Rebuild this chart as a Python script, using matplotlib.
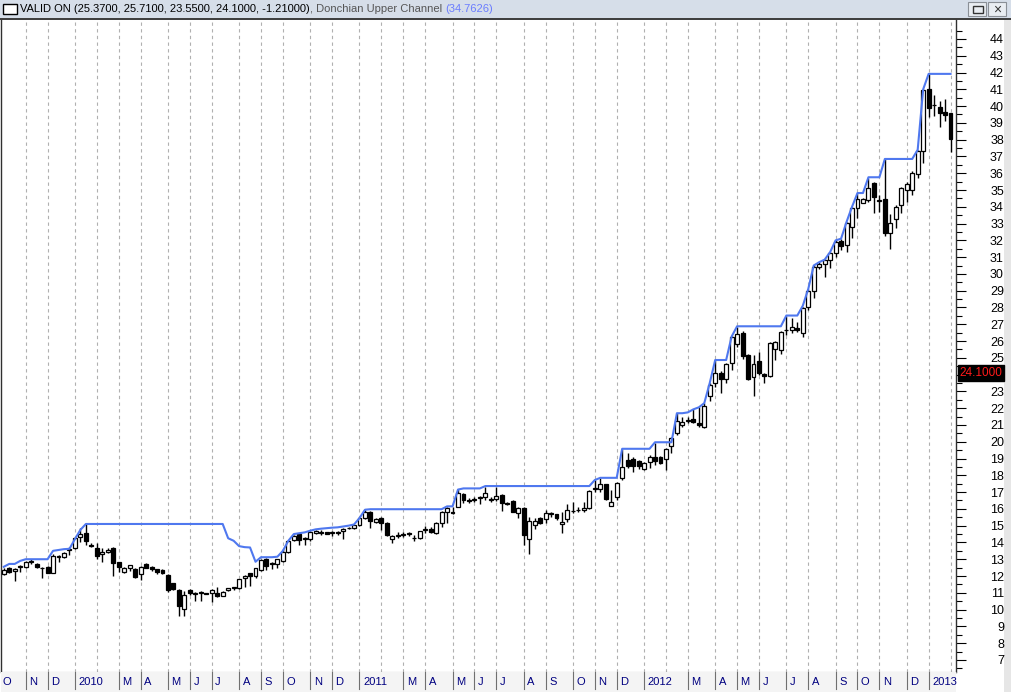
"""Weekly candlestick chart of VALID with a Donchian upper channel (trading-terminal look)."""

import matplotlib

matplotlib.use("Agg")
import matplotlib.pyplot as plt
import numpy as np
import pandas as pd
from matplotlib.patches import Rectangle
from matplotlib.transforms import blended_transform_factory

plt.rcParams["font.family"] = ["Liberation Sans", "DejaVu Sans"]

W, H = 1011, 692

# weekly OHLC (first bar = week ending 2009-10-09)
opens = [
    12.12, 12.45, 12.28, 12.55, 12.52, 12.85, 12.70, 12.50, 12.52, 12.20,
    13.13, 13.15, 13.57, 13.65, 14.30, 14.54, 13.82, 13.69, 13.31, 13.41,
    13.65, 12.82, 12.22, 12.50, 12.42, 12.12, 12.70, 12.56, 12.40, 12.36,
    12.06, 11.56, 11.17, 10.01, 11.17, 10.95, 11.00, 10.97, 10.97, 10.97,
    10.83, 11.17, 11.30, 11.26, 11.86, 12.15, 12.03, 12.36, 12.99, 12.80,
    12.71, 12.89, 13.45, 14.14, 14.48, 14.22, 14.18, 14.54, 14.58, 14.60,
    14.57, 14.62, 14.70, 14.85, 14.84, 15.03, 15.43, 15.83, 15.23, 15.43,
    15.17, 14.22, 14.40, 14.47, 14.56, 14.26, 14.24, 14.73, 14.83, 14.57,
    15.13, 15.83, 15.80, 16.12, 16.88, 16.50, 16.55, 16.66, 16.68, 16.55,
    16.56, 16.82, 16.34, 16.46, 15.77, 16.03, 14.18, 15.03, 15.43, 15.37,
    15.72, 15.67, 15.09, 15.37, 15.87, 15.91, 15.93, 16.03, 17.20, 17.16,
    17.46, 16.19, 16.73, 17.82, 18.91, 18.95, 18.85, 18.36, 18.81, 19.11,
    19.07, 18.95, 19.77, 20.50, 20.98, 21.23, 21.34, 21.10, 20.86, 22.73,
    23.52, 24.12, 23.72, 24.68, 25.81, 26.46, 25.17, 23.88, 24.82, 24.04,
    23.92, 25.51, 25.47, 26.64, 26.66, 26.76, 26.46, 28.01, 28.98, 30.43,
    30.59, 30.83, 31.27, 31.96, 31.72, 32.82, 33.91, 34.25, 34.41, 35.40,
    34.35, 34.45, 32.42, 33.25, 34.11, 35.00, 35.00, 35.94, 37.33, 41.00,
    40.05, 39.93, 39.63, 39.57,
]
highs = [
    12.45, 12.55, 12.50, 12.65, 12.92, 12.99, 12.80, 12.52, 12.60, 13.30,
    13.25, 13.43, 13.75, 14.30, 14.85, 15.10, 13.98, 13.98, 13.69, 13.69,
    13.70, 12.85, 12.55, 12.68, 12.45, 12.60, 12.75, 12.60, 12.44, 12.40,
    12.10, 11.60, 11.20, 11.10, 11.25, 11.05, 11.10, 11.00, 11.20, 11.32,
    11.08, 11.30, 11.36, 11.85, 12.05, 12.20, 12.50, 13.00, 13.05, 12.84,
    13.00, 13.60, 14.15, 14.45, 14.52, 14.35, 14.70, 14.72, 14.74, 14.64,
    14.70, 14.70, 14.88, 14.90, 15.05, 15.50, 15.93, 15.90, 15.43, 15.53,
    15.20, 14.42, 14.63, 14.63, 14.60, 14.44, 14.70, 14.97, 14.93, 15.20,
    15.90, 16.12, 16.12, 17.20, 16.96, 16.62, 16.72, 16.76, 17.32, 16.72,
    17.32, 16.86, 16.42, 16.50, 16.10, 16.10, 15.50, 15.43, 15.50, 15.93,
    15.83, 15.70, 15.83, 16.32, 16.43, 16.13, 16.43, 17.10, 17.70, 17.85,
    17.50, 17.12, 17.60, 19.57, 19.35, 19.11, 18.91, 18.80, 19.21, 19.95,
    19.15, 19.60, 20.30, 21.70, 21.50, 21.50, 21.93, 22.05, 22.30, 23.50,
    24.85, 24.24, 24.70, 26.30, 26.86, 26.62, 25.20, 25.17, 25.37, 24.10,
    25.95, 26.00, 26.60, 27.50, 27.36, 27.16, 28.00, 29.10, 30.53, 30.73,
    30.87, 31.30, 32.00, 32.06, 33.10, 34.00, 34.80, 34.50, 35.70, 35.45,
    34.70, 36.85, 33.57, 34.10, 35.20, 35.50, 36.13, 37.40, 41.00, 41.90,
    40.66, 40.33, 40.41, 39.60,
]
lows = [
    12.05, 12.20, 11.72, 12.26, 12.45, 12.72, 12.46, 11.90, 12.16, 12.15,
    12.86, 13.10, 13.25, 13.60, 14.00, 13.85, 13.70, 13.00, 12.82, 13.35,
    12.00, 12.26, 12.18, 12.30, 11.90, 11.76, 12.45, 12.32, 12.12, 12.10,
    11.07, 11.18, 9.62, 9.62, 10.87, 10.53, 10.53, 10.90, 10.47, 10.77,
    10.80, 11.10, 11.17, 11.24, 11.36, 11.40, 11.86, 12.30, 12.35, 12.43,
    12.45, 12.85, 13.40, 14.10, 13.84, 13.84, 14.10, 14.50, 14.44, 14.48,
    14.38, 14.45, 14.18, 14.80, 14.80, 15.00, 15.40, 14.84, 15.13, 14.77,
    14.38, 13.94, 14.24, 14.30, 14.38, 14.08, 14.20, 14.57, 14.54, 14.52,
    14.93, 15.13, 15.67, 16.10, 16.36, 16.36, 16.42, 16.32, 16.52, 16.42,
    16.48, 15.89, 16.22, 15.80, 15.43, 13.84, 13.34, 14.83, 15.10, 15.13,
    15.49, 15.33, 14.54, 15.23, 15.73, 15.83, 15.83, 16.00, 17.03, 17.03,
    16.50, 16.15, 16.53, 17.72, 18.42, 18.22, 18.36, 18.32, 18.42, 18.60,
    18.70, 18.32, 19.35, 20.40, 20.90, 21.10, 21.10, 20.90, 20.80, 22.45,
    23.25, 22.93, 23.48, 24.28, 25.63, 24.93, 23.68, 22.75, 23.98, 23.48,
    23.88, 24.87, 25.23, 26.37, 26.50, 26.56, 26.27, 27.85, 28.55, 30.28,
    29.84, 30.33, 31.03, 31.43, 31.33, 32.12, 33.31, 34.20, 34.30, 33.61,
    33.71, 32.26, 31.47, 32.72, 33.61, 34.31, 34.70, 35.70, 36.63, 39.33,
    39.41, 38.78, 39.13, 37.27,
]
closes = [
    12.36, 12.25, 12.40, 12.58, 12.82, 12.88, 12.52, 12.46, 12.20, 13.19,
    13.17, 13.35, 13.60, 14.25, 14.50, 14.10, 13.78, 13.21, 13.41, 13.53,
    12.80, 12.52, 12.50, 12.64, 11.92, 12.52, 12.48, 12.42, 12.24, 12.16,
    11.17, 11.23, 10.21, 10.87, 10.97, 10.99, 11.03, 10.91, 11.16, 10.83,
    11.03, 11.27, 11.32, 11.80, 12.02, 12.03, 12.45, 12.95, 12.60, 12.70,
    12.99, 13.45, 14.08, 14.38, 14.14, 14.25, 14.64, 14.68, 14.62, 14.52,
    14.60, 14.54, 14.82, 14.87, 15.03, 15.43, 15.83, 15.29, 15.37, 15.13,
    14.42, 14.38, 14.44, 14.50, 14.50, 14.29, 14.67, 14.83, 14.63, 15.13,
    15.83, 16.03, 15.75, 16.96, 16.52, 16.46, 16.60, 16.70, 16.92, 16.58,
    16.76, 16.36, 16.30, 15.83, 16.03, 14.44, 15.29, 15.29, 15.17, 15.77,
    15.74, 15.43, 15.23, 15.95, 15.90, 15.95, 16.07, 17.06, 17.24, 17.46,
    16.59, 16.43, 17.52, 18.48, 18.58, 18.58, 18.58, 18.71, 19.11, 18.87,
    18.75, 19.55, 20.24, 21.26, 21.16, 21.28, 21.20, 20.98, 22.13, 23.38,
    24.08, 23.74, 24.64, 26.23, 26.40, 25.13, 23.72, 24.62, 24.08, 23.94,
    25.87, 25.97, 26.56, 26.68, 26.82, 26.66, 27.95, 29.00, 30.43, 30.59,
    30.83, 31.27, 31.92, 31.66, 33.02, 33.91, 34.45, 34.45, 35.10, 34.60,
    34.39, 32.46, 33.02, 33.97, 35.10, 35.36, 36.00, 37.33, 40.96, 39.87,
    40.09, 39.57, 39.47, 38.06,
]
# Donchian upper channel as drawn on the chart
donchian = [
    12.55, 12.72, 12.72, 12.90, 13.00, 13.00, 13.00, 13.00, 13.00, 13.50,
    13.55, 13.60, 13.62, 14.20, 14.75, 15.10, 15.10, 15.10, 15.10, 15.10,
    15.10, 15.10, 15.10, 15.10, 15.10, 15.10, 15.10, 15.10, 15.10, 15.10,
    15.10, 15.10, 15.10, 15.10, 15.10, 15.10, 15.10, 15.10, 15.10, 15.10,
    15.10, 14.25, 14.10, 13.78, 13.72, 13.70, 12.85, 13.12, 13.12, 13.12,
    13.15, 13.50, 14.10, 14.50, 14.55, 14.60, 14.70, 14.78, 14.82, 14.85,
    14.88, 14.90, 14.95, 15.00, 15.07, 15.45, 15.95, 15.98, 15.98, 15.98,
    15.98, 15.98, 15.98, 15.98, 15.98, 15.98, 15.98, 15.98, 15.98, 15.98,
    15.98, 16.15, 16.15, 17.15, 17.22, 17.22, 17.22, 17.22, 17.36, 17.36,
    17.36, 17.36, 17.36, 17.36, 17.36, 17.36, 17.36, 17.36, 17.36, 17.36,
    17.36, 17.36, 17.36, 17.36, 17.36, 17.36, 17.36, 17.36, 17.72, 17.85,
    17.85, 17.85, 17.85, 19.58, 19.58, 19.58, 19.58, 19.58, 19.58, 19.97,
    19.97, 19.97, 19.97, 21.70, 21.70, 21.75, 21.93, 22.05, 22.30, 23.50,
    24.87, 24.87, 24.87, 26.27, 26.88, 26.88, 26.88, 26.88, 26.88, 26.88,
    26.88, 26.88, 26.88, 27.52, 27.52, 27.52, 28.10, 29.10, 30.50, 30.70,
    30.85, 31.30, 32.00, 32.10, 33.10, 34.00, 34.82, 34.82, 35.76, 35.76,
    35.76, 36.85, 36.85, 36.85, 36.85, 36.85, 36.85, 37.40, 41.00, 41.92,
    41.92, 41.92, 41.92, 41.92,
]

ticker_text = "VALID ON (25.3700, 25.7100, 23.5500, 24.1000, -1.21000)"
indicator_text = ", Donchian Upper Channel "
indicator_value = "(34.7626)"
last_price = 24.1
last_price_label = "24.1000"
price_ticks = list(range(7, 45))
month_letters = "JFMAMJJASOND"

UP_COLOR = "white"
DOWN_COLOR = "black"
LINE_COLOR = "#4f78ef"
GRID_COLOR = "#b0b0b0"
BAR_COLOR = "#d6dee9"


def px_rect(x0, y0, x1, y1, **kw):
    """Rectangle given in figure pixels (origin top-left), drawn behind the axes."""
    kw.setdefault("zorder", -1)
    return Rectangle((x0 / W, 1 - y1 / H), (x1 - x0) / W, (y1 - y0) / H,
                     transform=fig.transFigure, **kw)


dates = pd.date_range("2009-10-09", periods=len(closes), freq="W-FRI")
# New Year's Day 2010 was a Friday, that week closed on Dec 31
dates = dates.where(~((dates.month == 1) & (dates.day == 1)), dates - pd.Timedelta(days=1))

x = np.arange(len(closes))
o = np.array(opens)
h = np.array(highs)
l = np.array(lows)
c = np.array(closes)
up = c >= o

fig = plt.figure(figsize=(W / 100, H / 100), dpi=100)
fig.patch.set_facecolor("white")

# plot area: x 0..956 px, y 20..672 px
ax = fig.add_axes([0.5 / W, 1 - 672 / H, 955.5 / W, (672 - 20) / H])
ax.set_facecolor("white")
ax.set_xlim(-0.6, 174.0)
ax.set_ylim(6.28, 45.13)

month_starts = [i for i in range(1, len(dates)) if dates[i].month != dates[i - 1].month]
for i in month_starts:
    ax.axvline(i, color=GRID_COLOR, lw=0.8, ls=(0, (3, 3)), zorder=0)

ax.vlines(x, l, h, color="black", lw=1.0, zorder=2)
bottoms = np.minimum(o, c)
heights = np.maximum(np.abs(c - o), 0.02)
ax.bar(x[up], heights[up], bottom=bottoms[up], width=0.72, facecolor=UP_COLOR,
       edgecolor="black", linewidth=0.9, zorder=3)
ax.bar(x[~up], heights[~up], bottom=bottoms[~up], width=0.72, facecolor=DOWN_COLOR,
       edgecolor="black", linewidth=0.9, zorder=3)
ax.plot(x, donchian, color=LINE_COLOR, lw=1.5, zorder=4)

# price scale on the right; the last-price box sits over the 24 label
ax.yaxis.tick_right()
ax.set_yticks(price_ticks)
ax.set_yticks([t + 0.5 for t in price_ticks[:-1]] + [6.5, 44.5], minor=True)
ax.set_yticklabels(["" if t == 24 else str(t) for t in price_ticks])
ax.tick_params(axis="y", which="major", length=7, width=0.8, direction="out",
               pad=27.5, labelsize=9, colors="black")
ax.tick_params(axis="y", which="minor", length=4, width=0.8, direction="out")
for lab in ax.get_yticklabels():
    lab.set_horizontalalignment("right")
ax.set_xticks([])
for side in ("left", "right"):
    ax.spines[side].set_color("#303030")
    ax.spines[side].set_linewidth(1.0)
ax.spines["top"].set_visible(False)
ax.spines["bottom"].set_color("#808080")
ax.spines["bottom"].set_linewidth(0.8)

# last price marker
blend = blended_transform_factory(fig.transFigure, ax.transData)
ax.text(981 / W, last_price, last_price_label, transform=blend, ha="center", va="center",
        fontsize=8.5, color="#ff1a1a", clip_on=False, zorder=6,
        bbox=dict(boxstyle="square,pad=0.15", facecolor="black", edgecolor="black"))

# date strip at the bottom
strip = fig.add_axes([0.5 / W, 0, 955.5 / W, (692 - 672) / H], sharex=ax)
strip.set_facecolor("#f4f4f4")
strip.set_ylim(0, 1)
strip.tick_params(left=False, bottom=False, labelleft=False, labelbottom=False)
for spine in strip.spines.values():
    spine.set_visible(False)
label_positions = [0] + month_starts
for k, i in enumerate(label_positions):
    d = dates[i]
    if d.month == 2:
        continue
    text = str(d.year) if d.month == 1 else month_letters[d.month - 1]
    if k > 0:
        strip.plot([i, i], [0.15, 1.0], color="#707070", lw=0.8)
        strip.annotate(text, xy=(i, 0.5), xytext=(2.5, 0), textcoords="offset points",
                       ha="left", va="center", fontsize=8, color="#000080")
    else:
        strip.text(0.002, 0.5, text, transform=strip.transAxes, ha="left", va="center",
                   fontsize=8, color="#000080")

# window frame pieces
fig.add_artist(px_rect(0, 0, W, 19, facecolor=BAR_COLOR, edgecolor="none"))
fig.add_artist(px_rect(0, 18.5, W, 20, facecolor="#404040", edgecolor="none"))
fig.add_artist(px_rect(1004, 20, W, H, facecolor="#e6e6e6", edgecolor="none"))
fig.add_artist(px_rect(3, 4, 17, 14, facecolor="white", edgecolor="black", linewidth=1.0))
for bx0 in (968, 988):
    fig.add_artist(px_rect(bx0, 2, bx0 + 18, 16, facecolor="#e9edf2", edgecolor="#8a8f96", linewidth=0.8))
fig.add_artist(px_rect(973, 6, 983, 13, facecolor="none", edgecolor="#333333", linewidth=1.0))
fig.text(997 / W, 1 - 9.5 / H, "×", ha="center", va="center", fontsize=10, color="#333333")

t1 = fig.text(20 / W, 1 - 9.5 / H, ticker_text, ha="left", va="center", fontsize=8, color="black")
t2 = fig.text(0, 0, indicator_text, fontsize=8, color="#555555")
t3 = fig.text(0, 0, indicator_value, fontsize=8, color="#6a7cff")

# chain the coloured title pieces one after another
renderer = fig.canvas.get_renderer()
prev = t1
for piece in (t2, t3):
    box = prev.get_window_extent(renderer)
    piece.set_position((box.x1 / fig.bbox.width, box.y0 / fig.bbox.height))
    piece.set_verticalalignment("bottom")
    prev = piece

fig.savefig("out.png", dpi=100, facecolor=fig.get_facecolor())
